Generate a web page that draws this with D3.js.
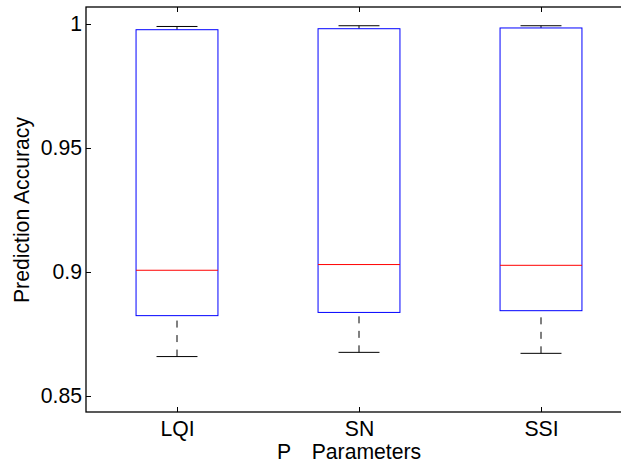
<!DOCTYPE html>
<html>
<head>
<meta charset="utf-8">
<script src="https://cdn.jsdelivr.net/npm/d3@7"></script>
<style>
  html, body { margin: 0; padding: 0; background: #fff; }
  svg { display: block; }
  text { font-family: "Liberation Sans", Arial, Helvetica, sans-serif; }
</style>
</head>
<body>
<svg id="chart" width="621" height="462"></svg>
<script>
// ---- data ----
const categories = ["LQI", "SN", "SSI"];
const whiskerLow = [0.8659, 0.8676, 0.8672];
const q1 = [0.8824, 0.8837, 0.8844];
const median = [0.9007, 0.9030, 0.9027];
const q3 = [0.9977, 0.9981, 0.9984];
const whiskerHigh = [0.9990, 0.9993, 0.9993];
const yTickValues = [0.85, 0.9, 0.95, 1];
const yTickLabels = ["0.85", "0.9", "0.95", "1"];
const yLabel = "Prediction Accuracy";
const xLabelParts = ["P", "Parameters"];

// ---- layout ----
const svg = d3.select("#chart");
const mLeft = 86, mTop = 7, mBottom = 412, mRight = 632;
const fontSize = 21.2;

const x = d3.scaleLinear().domain([0.5, categories.length + 0.5]).range([mLeft, mRight]);
const y = d3.scaleLinear().domain([0.843548, 1.006855]).range([mBottom, mTop]);

svg.append("rect").attr("width", 621).attr("height", 462).attr("fill", "#fff");

const bw = x(1.225) - x(1); // half width of box
const capHalf = bw / 2;

const g = svg.append("g");
categories.forEach((c, i) => {
  const cx = x(i + 1);
  g.append("line")
    .attr("x1", cx).attr("x2", cx)
    .attr("y1", y(whiskerLow[i])).attr("y2", y(q1[i]))
    .attr("stroke", "#000").attr("stroke-width", 1)
    .attr("stroke-dasharray", "7,7.5");
  g.append("line")
    .attr("x1", cx).attr("x2", cx)
    .attr("y1", y(whiskerHigh[i])).attr("y2", y(q3[i]))
    .attr("stroke", "#000").attr("stroke-width", 1)
    .attr("stroke-dasharray", "7,7.5");
  [whiskerLow[i], whiskerHigh[i]].forEach(v => {
    g.append("line")
      .attr("x1", cx - capHalf).attr("x2", cx + capHalf)
      .attr("y1", y(v)).attr("y2", y(v))
      .attr("stroke", "#000").attr("stroke-width", 1);
  });
  g.append("rect")
    .attr("x", cx - bw).attr("width", 2 * bw)
    .attr("y", y(q3[i])).attr("height", y(q1[i]) - y(q3[i]))
    .attr("fill", "none").attr("stroke", "#0000ff").attr("stroke-width", 1);
  g.append("line")
    .attr("x1", cx - bw).attr("x2", cx + bw)
    .attr("y1", y(median[i])).attr("y2", y(median[i]))
    .attr("stroke", "#ff0000").attr("stroke-width", 1);
});

// ---- axes ----
const yAxis = d3.axisLeft(y)
  .tickValues(yTickValues)
  .tickFormat((d, i) => yTickLabels[i])
  .tickSizeInner(-5).tickSizeOuter(0).tickPadding(4);
const gy = svg.append("g").attr("transform", `translate(${mLeft},0)`).call(yAxis);

const xAxis = d3.axisBottom(x)
  .tickValues(categories.map((c, i) => i + 1))
  .tickFormat((d, i) => categories[i])
  .tickSizeInner(-5).tickSizeOuter(0).tickPadding(8.5);
const gx = svg.append("g").attr("transform", `translate(0,${mBottom})`).call(xAxis);

const xTop = d3.axisTop(x)
  .tickValues(categories.map((c, i) => i + 1))
  .tickFormat("")
  .tickSizeInner(-5).tickSizeOuter(0);
const gt = svg.append("g").attr("transform", `translate(0,${mTop})`).call(xTop);

[gy, gx, gt].forEach(a => {
  a.select(".domain").remove();
  a.selectAll(".tick line").attr("stroke", "#000").attr("stroke-width", 1);
  a.selectAll("text").attr("fill", "#000")
    .style("font-size", fontSize + "px")
    .style("font-family", '"Liberation Sans", Arial, sans-serif');
});

// frame
svg.append("rect")
  .attr("x", mLeft).attr("y", mTop)
  .attr("width", mRight - mLeft).attr("height", mBottom - mTop)
  .attr("fill", "none").attr("stroke", "#000").attr("stroke-width", 1.3);

// ---- labels ----
svg.append("text")
  .attr("transform", `translate(29,${(113 + 307) / 2}) rotate(-90)`)
  .attr("text-anchor", "middle")
  .style("font-size", fontSize + "px")
  .attr("fill", "#000")
  .text(yLabel);

const xl = svg.append("text")
  .attr("y", 458.5)
  .style("font-size", fontSize + "px")
  .attr("fill", "#000");
xl.append("tspan").attr("x", 277).text(xLabelParts[0]);
xl.append("tspan").attr("x", 311.7).text(xLabelParts[1]);
</script>
</body>
</html>
